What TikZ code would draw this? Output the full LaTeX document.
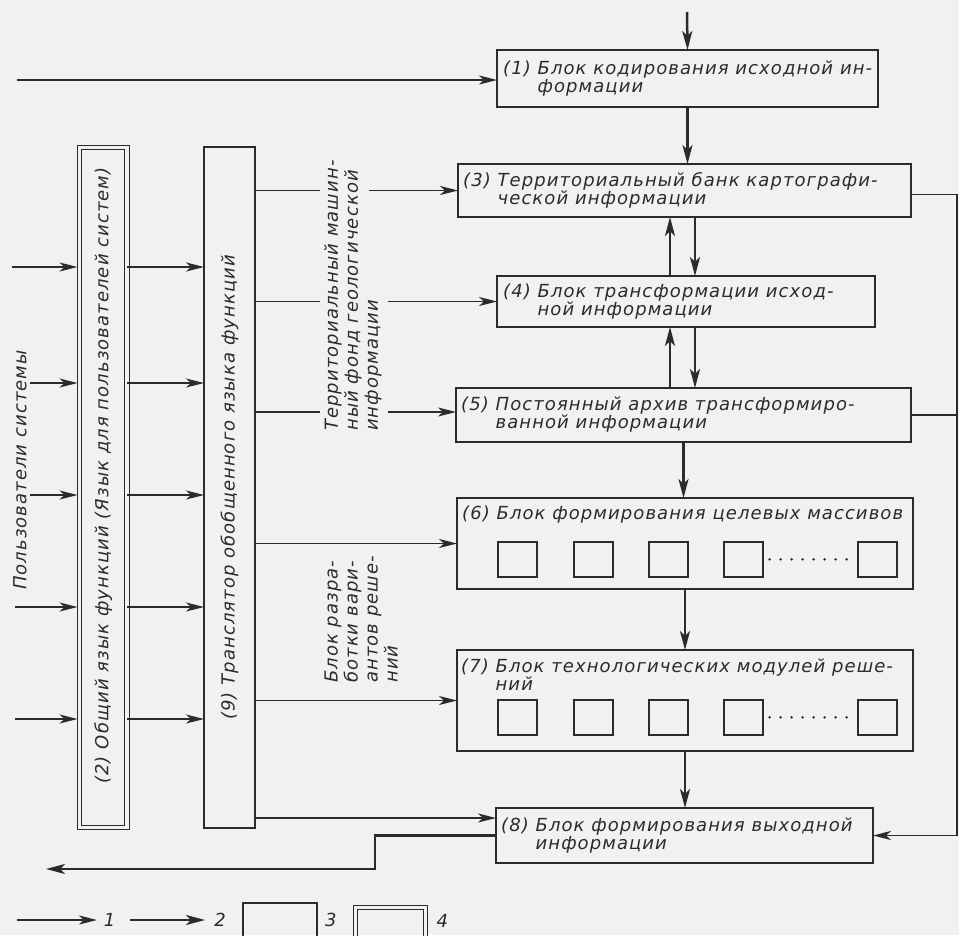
\documentclass[tikz,border=0pt]{standalone}
\usepackage{fontspec}
\newfontfamily\gostfont{DejaVu Sans}[LetterSpace=6,ItalicFont={DejaVu Sans Oblique}]
\usetikzlibrary{arrows.meta,positioning,calc}
\definecolor{Ink}{HTML}{2B2B2B}
\definecolor{Paper}{HTML}{F1F1EF}

\tikzset{
  blk/.style={draw=Ink,line width=2.2pt,rectangle,anchor=north west,inner sep=0pt,outer sep=0pt},
  blkthin/.style={blk,line width=1.6pt},
  dblk/.style={draw=Ink,double=Paper,double distance=3.5pt,line width=1.2pt,rectangle,anchor=north west,inner sep=0pt,outer sep=0pt},
  cell/.style={draw=Ink,line width=1.6pt,rectangle,anchor=north west,minimum width=39pt,minimum height=35pt,inner sep=0pt},
  txt/.style={inner sep=0pt,align=left,text=Ink},
  vtext/.style={txt,rotate=90},
  ln/.style={draw=Ink,line width=1.7pt},
  arr/.style={ln,-{Stealth[length=18pt,width=9pt,inset=5pt]}},
  arrthick/.style={ln,line width=2.5pt,-{Stealth[length=19pt,width=10pt,inset=5pt]}},
  dots/.style={draw=Ink,line width=2.8pt,line cap=round,dash pattern=on 0pt off 11pt}
}

\begin{document}
\begin{tikzpicture}[x=1pt,y=-1pt,font=\gostfont\itshape\fontsize{18}{18}\selectfont]
  \clip (0,0) rectangle (959,935);
  \fill[Paper] (0,0) rectangle (959,935);

  \node[blk,minimum width=381,minimum height=57] (b1) at (497,50) {};
  \node[blkthin,minimum width=453,minimum height=53] (b3) at (458,164) {};
  \node[blk,minimum width=378,minimum height=51] (b4) at (497,276) {};
  \node[blkthin,minimum width=455,minimum height=54] (b5) at (456,388) {};
  \node[blk,minimum width=456,minimum height=91] (b6) at (457,498) {};
  \node[blkthin,minimum width=456,minimum height=101] (b7) at (457,650) {};
  \node[blk,minimum width=377,minimum height=55] (b8) at (496,808) {};
  \node[dblk,minimum width=47.5,minimum height=680] (b2) at (79.5,147.5) {};
  \node[blk,minimum width=51,minimum height=681] (b9) at (204,147) {};

  \node[txt,right=6pt of b1.west] (t1) {(1) Блок кодирования исходной ин-\\\hphantom{(1) }формации};
  \node[txt,right=5pt of b3.west] (t3) {(3) Территориальный банк картографи-\\\hphantom{(3) }ческой информации};
  \node[txt,right=6pt of b4.west] (t4) {(4) Блок трансформации исход-\\\hphantom{(4) }ной информации};
  \node[txt,right=5pt of b5.west] (t5) {(5) Постоянный архив трансформиро-\\\hphantom{(5) }ванной информации};
  \node[txt,below right=8pt and 5pt of b6.north west] (t6) {(6) Блок формирования целевых массивов};
  \node[txt,below right=9pt and 4pt of b7.north west] (t7) {(7) Блок технологических модулей реше-\\\hphantom{(7) }ний};
  \node[txt,right=5pt of b8.west] (t8) {(8) Блок формирования выходной\\\hphantom{(8) }информации};
  \node[vtext] (t2) at ([yshift=12pt]b2.center) {(2) Общий язык функций (Язык для пользователей систем)};
  \node[vtext] (t9) at (b9.center) {(9) Транслятор обобщенного языка функций};
  \node[vtext] (users) at (20,470) {Пользователи системы};
  \node[vtext,anchor=west,font=\gostfont\itshape\fontsize{18}{20}\selectfont] (fond) at (353,431)
    {Территориальный машин-\\ный фонд геологической\\информации};
  \node[vtext,anchor=west,font=\gostfont\itshape\fontsize{18}{20}\selectfont] (razr) at (361,683)
    {Блок разра-\\ботки вари-\\антов реше-\\ний};

  \foreach \i/\x in {1/40,2/116,3/191,4/266,5/400} {
    \node[cell] (m6-\i) at ([shift={(\x,43)}]b6.north west) {};
    \node[cell] (m7-\i) at ([shift={(\x,49)}]b7.north west) {};
  }
  \draw[dots] ([xshift=6pt]m6-4.east) -- ([xshift=-5pt]m6-5.west);
  \draw[dots] ([xshift=6pt]m7-4.east) -- ([xshift=-5pt]m7-5.west);

  \coordinate (top) at (687,12);
  \coordinate (in0) at (17,80);
  \coordinate (up) at (670,0);
  \coordinate (dn) at (695,0);
  \coordinate (rt) at (957,0);
  \coordinate (g1) at (320,0);
  \coordinate (g2) at (369,0);
  \coordinate (g3) at (388,0);
  \coordinate (in8) at ([yshift=-10pt]b8.north west);
  \coordinate (out) at (46,869);

  \draw[arrthick] (top) -- (b1.north);
  \draw[arr] (in0) -- (in0 -| b1.west);
  \draw[arrthick] (b1.south) -- (b1.south |- b3.north);
  \draw[arrthick] (up |- b4.north) -- (up |- b3.south);
  \draw[arrthick] (dn |- b3.south) -- (dn |- b4.north);
  \draw[arrthick] (up |- b5.north) -- (up |- b4.south);
  \draw[arrthick] (dn |- b4.south) -- (dn |- b5.north);
  \draw[arrthick] (b5.south) -- (b5.south |- b6.north);
  \draw[arrthick] (b6.south) -- (b6.south |- b7.north);
  \draw[arrthick] (b7.south) -- (b7.south |- b8.north);

  \draw[arr] ([yshift=-4pt]b3.east) -| (rt |- b8.east) -- (b8.east);
  \draw[ln] (b5.east) -- (b5.east -| rt);

  \foreach \y/\s in {267/12,383/30,495/30,607/15,719/15} {
    \coordinate (p) at (\s,\y);
    \draw[arr,shorten >=2pt] (p) -- (p -| b2.west);
    \draw[arr] (p -| b2.east) -- (p -| b9.west);
  }

  \draw[ln] (b9.east |- b3.west) -- (g1 |- b3.west);
  \draw[arr] (g2 |- b3.west) -- (b3.west);
  \draw[ln] (b9.east |- b4.west) -- (g1 |- b4.west);
  \draw[arr] (g3 |- b4.west) -- (b4.west);
  \draw[ln] ([yshift=3pt]b9.east |- b5.west) -- ([yshift=3pt]g1 |- b5.west);
  \draw[arr] ([yshift=3pt]g3 |- b5.west) -- ([yshift=3pt]b5.west);
  \draw[arr] (b9.east |- b6.west) -- (b6.west);
  \draw[arr] (b9.east |- b7.west) -- (b7.west);
  \draw[arr] (b9.east |- in8) -- (in8);
  \draw[arrthick] (b8.west) -- ++(-121,0) |- (out);

  \coordinate (k1) at (17,920);
  \coordinate (k2) at (130,920);
  \draw[arr] (k1) -- ++(80,0) node[txt,right=6pt] (l1) {1};
  \draw[arrthick] (k2) -- ++(75,0) node[txt,right=8pt] (l2) {2};
  \node[blk,minimum width=74,minimum height=45] (k3) at (243,903) {};
  \node[txt,right=8pt of k3.north east,yshift=-17pt] (l3) {3};
  \node[dblk,minimum width=70,minimum height=45] (k4) at (355.5,907.5) {};
  \node[txt,right=11pt of k4.north east,yshift=-13pt] (l4) {4};
\end{tikzpicture}
\end{document}
